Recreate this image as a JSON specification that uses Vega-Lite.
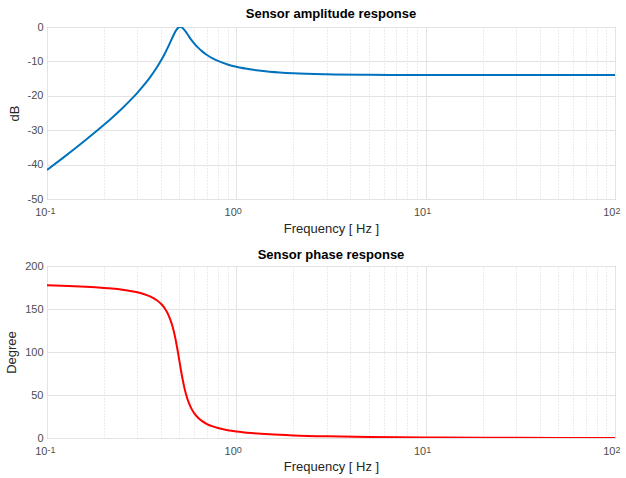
{
  "$schema": "https://vega.github.io/schema/vega-lite/v6.json",
  "padding": {"left": 5, "top": 7, "right": 10, "bottom": 2},
  "spacing": 12,
  "background": "white",
  "config": {
    "font": "Liberation Sans",
    "view": {"stroke": "#a6a6a6", "strokeWidth": 1},
    "title": {"fontSize": 13, "fontWeight": "bold", "color": "#000000", "offset": 0, "frame": "group"},
    "axis": {
      "labelFont": "Liberation Sans", "labelFontSize": 11, "labelColor": "#4d4d4d",
      "titleFont": "Liberation Sans", "titleFontSize": 13, "titleFontWeight": "normal", "titleColor": "#262626",
      "domainColor": "#a6a6a6", "tickColor": "#a6a6a6", "gridColor": "#e3e3e3", "gridWidth": 1
    }
  },
  "data": {"values": [
    {"f": 0.1, "dB": -41.59, "deg": 177.61},
    {"f": 0.12, "dB": -38.27, "deg": 177.08},
    {"f": 0.14, "dB": -35.40, "deg": 176.52},
    {"f": 0.16, "dB": -32.86, "deg": 175.92},
    {"f": 0.18, "dB": -30.55, "deg": 175.27},
    {"f": 0.2, "dB": -28.42, "deg": 174.56},
    {"f": 0.22, "dB": -26.42, "deg": 173.77},
    {"f": 0.25, "dB": -23.60, "deg": 172.41},
    {"f": 0.28, "dB": -20.90, "deg": 170.73},
    {"f": 0.3, "dB": -19.13, "deg": 169.38},
    {"f": 0.32, "dB": -17.35, "deg": 167.77},
    {"f": 0.35, "dB": -14.64, "deg": 164.65},
    {"f": 0.38, "dB": -11.79, "deg": 160.21},
    {"f": 0.4, "dB": -9.76, "deg": 156.04},
    {"f": 0.42, "dB": -7.61, "deg": 150.29},
    {"f": 0.44, "dB": -5.33, "deg": 142.04},
    {"f": 0.46, "dB": -3.02, "deg": 129.85},
    {"f": 0.47, "dB": -1.95, "deg": 121.76},
    {"f": 0.48, "dB": -1.02, "deg": 112.21},
    {"f": 0.49, "dB": -0.35, "deg": 101.42},
    {"f": 0.495, "dB": -0.13, "deg": 95.74},
    {"f": 0.5, "dB": 0.0, "deg": 90.0},
    {"f": 0.505, "dB": 0.04, "deg": 84.32},
    {"f": 0.51, "dB": 0.0, "deg": 78.80},
    {"f": 0.52, "dB": -0.28, "deg": 68.58},
    {"f": 0.53, "dB": -0.77, "deg": 59.76},
    {"f": 0.54, "dB": -1.35, "deg": 52.39},
    {"f": 0.56, "dB": -2.61, "deg": 41.36},
    {"f": 0.58, "dB": -3.79, "deg": 33.87},
    {"f": 0.6, "dB": -4.81, "deg": 28.61},
    {"f": 0.63, "dB": -6.08, "deg": 23.21},
    {"f": 0.66, "dB": -7.09, "deg": 19.57},
    {"f": 0.7, "dB": -8.13, "deg": 16.26},
    {"f": 0.75, "dB": -9.12, "deg": 13.50},
    {"f": 0.8, "dB": -9.86, "deg": 11.59},
    {"f": 0.9, "dB": -10.88, "deg": 9.13},
    {"f": 1, "dB": -11.56, "deg": 7.59},
    {"f": 1.2, "dB": -12.37, "deg": 5.76},
    {"f": 1.5, "dB": -12.98, "deg": 4.29},
    {"f": 2, "dB": -13.43, "deg": 3.05},
    {"f": 3, "dB": -13.74, "deg": 1.96},
    {"f": 5, "dB": -13.89, "deg": 1.16},
    {"f": 10, "dB": -13.96, "deg": 0.57},
    {"f": 20, "dB": -13.97, "deg": 0.29},
    {"f": 50, "dB": -13.98, "deg": 0.12},
    {"f": 100, "dB": -13.98, "deg": 0.06}
  ]},
  "vconcat": [
    {
      "width": 568, "height": 172,
      "title": {"text": "Sensor amplitude response", "offset": 0},
      "resolve": {"axis": {"x": "independent", "y": "independent"}},
      "layer": [
        {
          "mark": {"type": "line", "color": "#0072BD", "strokeWidth": 2, "interpolate": "monotone", "clip": true},
          "encoding": {
            "x": {"field": "f", "type": "quantitative",
              "scale": {"type": "log", "domain": [0.1, 100], "nice": false},
              "axis": {"orient": "bottom", "title": "Frequency [ Hz ]", "titlePadding": 5,
                "values": [0.1,0.2,0.3,0.4,0.5,0.6,0.7,0.8,0.9,1,2,3,4,5,6,7,8,9,10,20,30,40,50,60,70,80,90,100],
                "labelExpr": "datum.value < 0.15 ? '10' : (datum.value > 0.95 && datum.value < 1.05) ? '10' : (datum.value > 9.5 && datum.value < 10.5) ? '10' : datum.value > 95 ? '10' : ''",
                "labelAlign": "right", "labelDx": 1.5, "labelFlush": false, "labelOverlap": false,
                "labelPadding": 7, "tickSize": 0, "domain": false,
                "gridDash": {"condition": {"test": "abs(log(datum.value)/LN10 - round(log(datum.value)/LN10)) < 0.001", "value": []}, "value": [1, 2]},
                "gridColor": {"condition": {"test": "abs(log(datum.value)/LN10 - round(log(datum.value)/LN10)) < 0.001", "value": "#e3e3e3"}, "value": "#d9d9d9"}
              }},
            "y": {"field": "dB", "type": "quantitative",
              "scale": {"domain": [-50, 0], "nice": false},
              "axis": {"title": "dB", "values": [-50,-40,-30,-20,-10,0], "labelExpr": "toString(datum.value)", "labelOverlap": false, "tickSize": 0, "labelPadding": 4, "titlePadding": 6, "domain": false}}
          }
        },
        {
          "mark": {"type": "line", "strokeOpacity": 0, "clip": true},
          "encoding": {
            "x": {"field": "f", "type": "quantitative",
              "axis": {"orient": "bottom", "title": null, "grid": false, "domain": false, "ticks": false,
                "values": [0.1, 1, 10, 100],
                "labelExpr": "datum.value < 0.15 ? '-1' : datum.value < 5 ? '0' : datum.value < 50 ? '1' : '2'",
                "labelFontSize": 9, "labelAlign": "left", "labelDx": 1.5, "labelDy": -4, "labelFlush": false, "labelOverlap": false, "labelPadding": 7, "tickSize": 0}},
            "y": {"field": "dB", "type": "quantitative", "axis": null}
          }
        }
      ]
    },
    {
      "width": 568, "height": 172,
      "title": {"text": "Sensor phase response", "offset": -2},
      "resolve": {"axis": {"x": "independent", "y": "independent"}},
      "layer": [
        {
          "mark": {"type": "line", "color": "#FF0000", "strokeWidth": 2, "interpolate": "monotone", "clip": true},
          "encoding": {
            "x": {"field": "f", "type": "quantitative",
              "scale": {"type": "log", "domain": [0.1, 100], "nice": false},
              "axis": {"orient": "bottom", "title": "Frequency [ Hz ]", "titlePadding": 4,
                "values": [0.1,0.2,0.3,0.4,0.5,0.6,0.7,0.8,0.9,1,2,3,4,5,6,7,8,9,10,20,30,40,50,60,70,80,90,100],
                "labelExpr": "datum.value < 0.15 ? '10' : (datum.value > 0.95 && datum.value < 1.05) ? '10' : (datum.value > 9.5 && datum.value < 10.5) ? '10' : datum.value > 95 ? '10' : ''",
                "labelAlign": "right", "labelDx": 1.5, "labelFlush": false, "labelOverlap": false,
                "labelPadding": 7, "tickSize": 0, "domain": false,
                "gridDash": {"condition": {"test": "abs(log(datum.value)/LN10 - round(log(datum.value)/LN10)) < 0.001", "value": []}, "value": [1, 2]},
                "gridColor": {"condition": {"test": "abs(log(datum.value)/LN10 - round(log(datum.value)/LN10)) < 0.001", "value": "#e3e3e3"}, "value": "#d9d9d9"}
              }},
            "y": {"field": "deg", "type": "quantitative",
              "scale": {"domain": [0, 200], "nice": false},
              "axis": {"title": "Degree", "values": [0,50,100,150,200], "labelExpr": "toString(datum.value)", "labelOverlap": false, "tickSize": 0, "labelPadding": 4, "titlePadding": 6, "domain": false}}
          }
        },
        {
          "mark": {"type": "line", "strokeOpacity": 0, "clip": true},
          "encoding": {
            "x": {"field": "f", "type": "quantitative",
              "axis": {"orient": "bottom", "title": null, "grid": false, "domain": false, "ticks": false,
                "values": [0.1, 1, 10, 100],
                "labelExpr": "datum.value < 0.15 ? '-1' : datum.value < 5 ? '0' : datum.value < 50 ? '1' : '2'",
                "labelFontSize": 9, "labelAlign": "left", "labelDx": 1.5, "labelDy": -4, "labelFlush": false, "labelOverlap": false, "labelPadding": 7, "tickSize": 0}},
            "y": {"field": "deg", "type": "quantitative", "axis": null}
          }
        }
      ]
    }
  ]
}
